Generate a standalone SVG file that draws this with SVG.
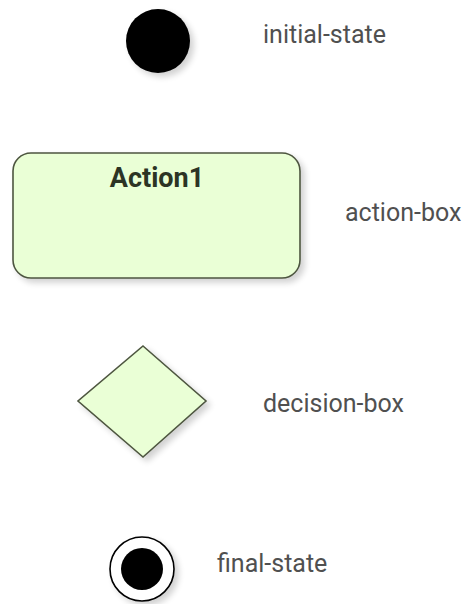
<svg xmlns="http://www.w3.org/2000/svg" width="466" height="604" viewBox="0 0 466 604">
<defs>
<filter id="sh" x="-20%" y="-20%" width="150%" height="150%">
<feGaussianBlur in="SourceAlpha" stdDeviation="3"/>
<feOffset dx="4" dy="4" result="b"/>
<feComponentTransfer><feFuncA type="linear" slope="0.18"/></feComponentTransfer>
<feMerge><feMergeNode/><feMergeNode in="SourceGraphic"/></feMerge>
</filter>
<style>
.lbl{font-family:Roboto,"Liberation Sans",sans-serif;font-size:25px;fill:#505050}
.node{fill:#eaffd6;stroke:#4e5640;stroke-width:1.6}
.title{font-family:Roboto,"Liberation Sans",sans-serif;font-size:27px;font-weight:bold;fill:#2c3424}
</style>
</defs>
<rect width="466" height="604" fill="#ffffff"/>
<g id="initial-state">
<circle cx="158" cy="41" r="32" fill="#000" filter="url(#sh)"/>
</g>
<g id="action-box">
<rect class="node" x="13" y="153" width="287" height="125" rx="18" ry="18" filter="url(#sh)"/>
<text class="title" x="157" y="187" text-anchor="middle">Action1</text>
</g>
<g id="decision-box">
<polygon class="node" points="143,346 206,401 143,457 78,401" filter="url(#sh)"/>
</g>
<g id="final-state">
<circle cx="142" cy="569" r="32" fill="#fff" stroke="#000" stroke-width="1.6" filter="url(#sh)"/>
<circle cx="142" cy="569" r="21" fill="#000"/>
</g>
<g id="labels">
<text class="lbl" x="263" y="43">initial-state</text>
<text class="lbl" x="345" y="221">action-box</text>
<text class="lbl" x="263" y="412">decision-box</text>
<text class="lbl" x="217" y="572">final-state</text>
</g>
<g id="connectors"/>
</svg>
